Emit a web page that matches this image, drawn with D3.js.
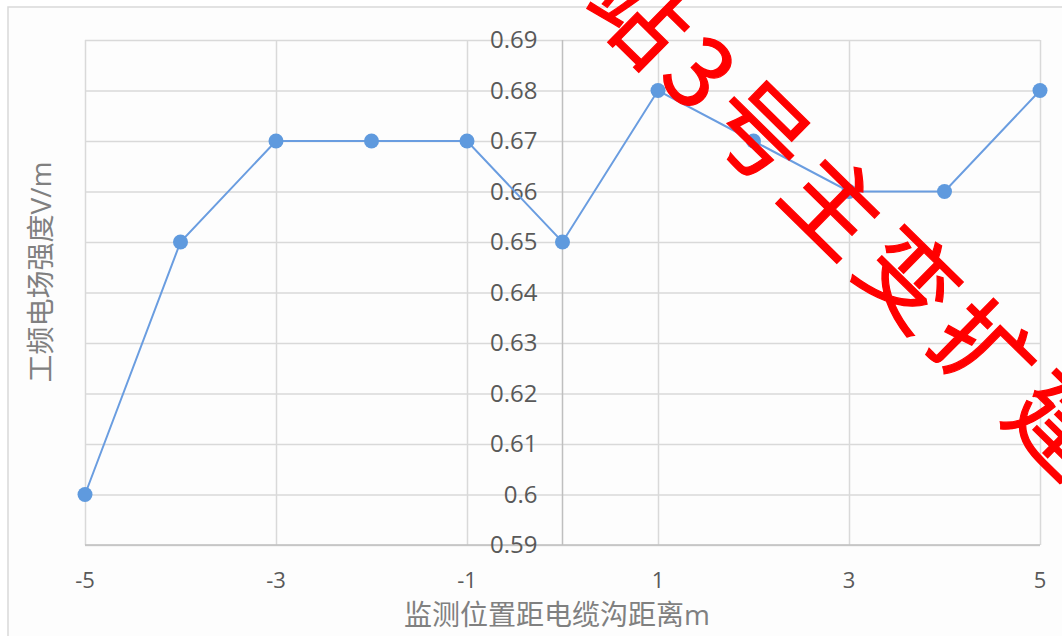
<!DOCTYPE html>
<html>
<head>
  <meta charset="utf-8">
  <title>工频电场强度</title>
  <script src="https://d3js.org/d3.v7.min.js"></script>
  <style>
    body { margin: 0; background: #ffffff; }
    svg { display: block; }
    .grid line { stroke: #d9d9d9; stroke-width: 1.5; }
    .grid path { stroke-width: 0; }
    .tick-label { font-family: "Open Sans", "Noto Sans CJK SC", sans-serif; fill: #595959; }
    .axis-title { font-family: "Open Sans", "Noto Sans CJK SC", sans-serif; fill: #808080; font-size: 28px; }
  </style>
</head>
<body>
<div id="chart"></div>
<script>
  // data
  const distances = [-5, -4, -3, -2, -1, 0, 1, 2, 3, 4, 5];
  const fieldValues = [0.60, 0.65, 0.67, 0.67, 0.67, 0.65, 0.68, 0.67, 0.66, 0.66, 0.68];
  const xTicks = [-5, -3, -1, 1, 3, 5];
  const yTicks = [0.59, 0.6, 0.61, 0.62, 0.63, 0.64, 0.65, 0.66, 0.67, 0.68, 0.69];
  const xTitle = "监测位置距电缆沟距离m";
  const yTitle = "工频电场强度V/m";
  const watermark = "站3号主变扩建";

  const W = 1062, H = 636;
  const plot = {left: 85, right: 1040, top: 40, bottom: 545};

  const svg = d3.select("#chart").append("svg")
    .attr("width", W)
    .attr("height", H);

  // chart area background + frame
  svg.append("rect")
    .attr("x", 8).attr("y", 7)
    .attr("width", 1080).attr("height", 660)
    .attr("fill", "#fdfdfd")
    .attr("stroke", "#d9d9d9")
    .attr("stroke-width", 1.5);

  const x = d3.scaleLinear().domain([-5, 5]).range([plot.left, plot.right]);
  const y = d3.scaleLinear().domain([0.59, 0.69]).range([plot.bottom, plot.top]);

  // horizontal grid
  svg.append("g")
    .attr("class", "grid")
    .attr("transform", `translate(${plot.left},0)`)
    .call(d3.axisLeft(y).tickValues(yTicks).tickSize(-(plot.right - plot.left)).tickFormat(""));

  // vertical grid (every 2 units)
  svg.append("g")
    .attr("class", "grid")
    .attr("transform", `translate(0,${plot.bottom})`)
    .call(d3.axisBottom(x).tickValues(xTicks).tickSize(-(plot.bottom - plot.top)).tickFormat(""));

  // axis lines: y axis crosses at x = 0, x axis at the bottom
  svg.append("line")
    .attr("x1", x(0)).attr("x2", x(0))
    .attr("y1", plot.top).attr("y2", plot.bottom)
    .attr("stroke", "#bfbfbf").attr("stroke-width", 1.5);
  svg.append("line")
    .attr("x1", plot.left).attr("x2", plot.right)
    .attr("y1", plot.bottom).attr("y2", plot.bottom)
    .attr("stroke", "#bfbfbf").attr("stroke-width", 1.5);

  // y tick labels, next to the axis at x = 0
  svg.selectAll(".ylab")
    .data(yTicks)
    .join("text")
    .attr("class", "tick-label")
    .attr("x", x(0) - 25)
    .attr("y", d => y(d))
    .attr("dy", "0.35em")
    .attr("text-anchor", "end")
    .style("font-size", "24px")
    .text(d => d3.format("")(+d.toFixed(2)));

  // x tick labels
  svg.selectAll(".xlab")
    .data(xTicks)
    .join("text")
    .attr("class", "tick-label")
    .attr("x", d => x(d))
    .attr("y", 588)
    .attr("text-anchor", "middle")
    .style("font-size", "22px")
    .text(d => d);

  // titles
  svg.append("text")
    .attr("class", "axis-title")
    .attr("x", 557)
    .attr("y", 625)
    .attr("text-anchor", "middle")
    .text(xTitle);
  svg.append("text")
    .attr("class", "axis-title")
    .attr("transform", "translate(51,272) rotate(-90)")
    .attr("text-anchor", "middle")
    .text(yTitle);

  // line + markers
  const pts = distances.map((d, i) => ({x: d, v: fieldValues[i]}));
  svg.append("path")
    .datum(pts)
    .attr("fill", "none")
    .attr("stroke", "#6a9de0")
    .attr("stroke-width", 2)
    .attr("d", d3.line().x(d => x(d.x)).y(d => y(d.v)));

  svg.selectAll(".dot")
    .data(pts)
    .join("circle")
    .attr("class", "dot")
    .attr("cx", d => x(d.x))
    .attr("cy", d => y(d.v))
    .attr("r", 7.5)
    .attr("fill", "#5f9ade");

  // red diagonal watermark
  svg.append("text")
    .attr("transform", "translate(610,-24) rotate(44.5)")
    .attr("dominant-baseline", "central")
    .attr("fill", "#ff0000")
    .attr("stroke", "#ff0000")
    .attr("stroke-width", 1.2)
    .style("font-family", "'Noto Sans CJK SC', sans-serif")
    .style("font-size", "96px")
    .style("letter-spacing", "9px")
    .text(watermark);
</script>
</body>
</html>
